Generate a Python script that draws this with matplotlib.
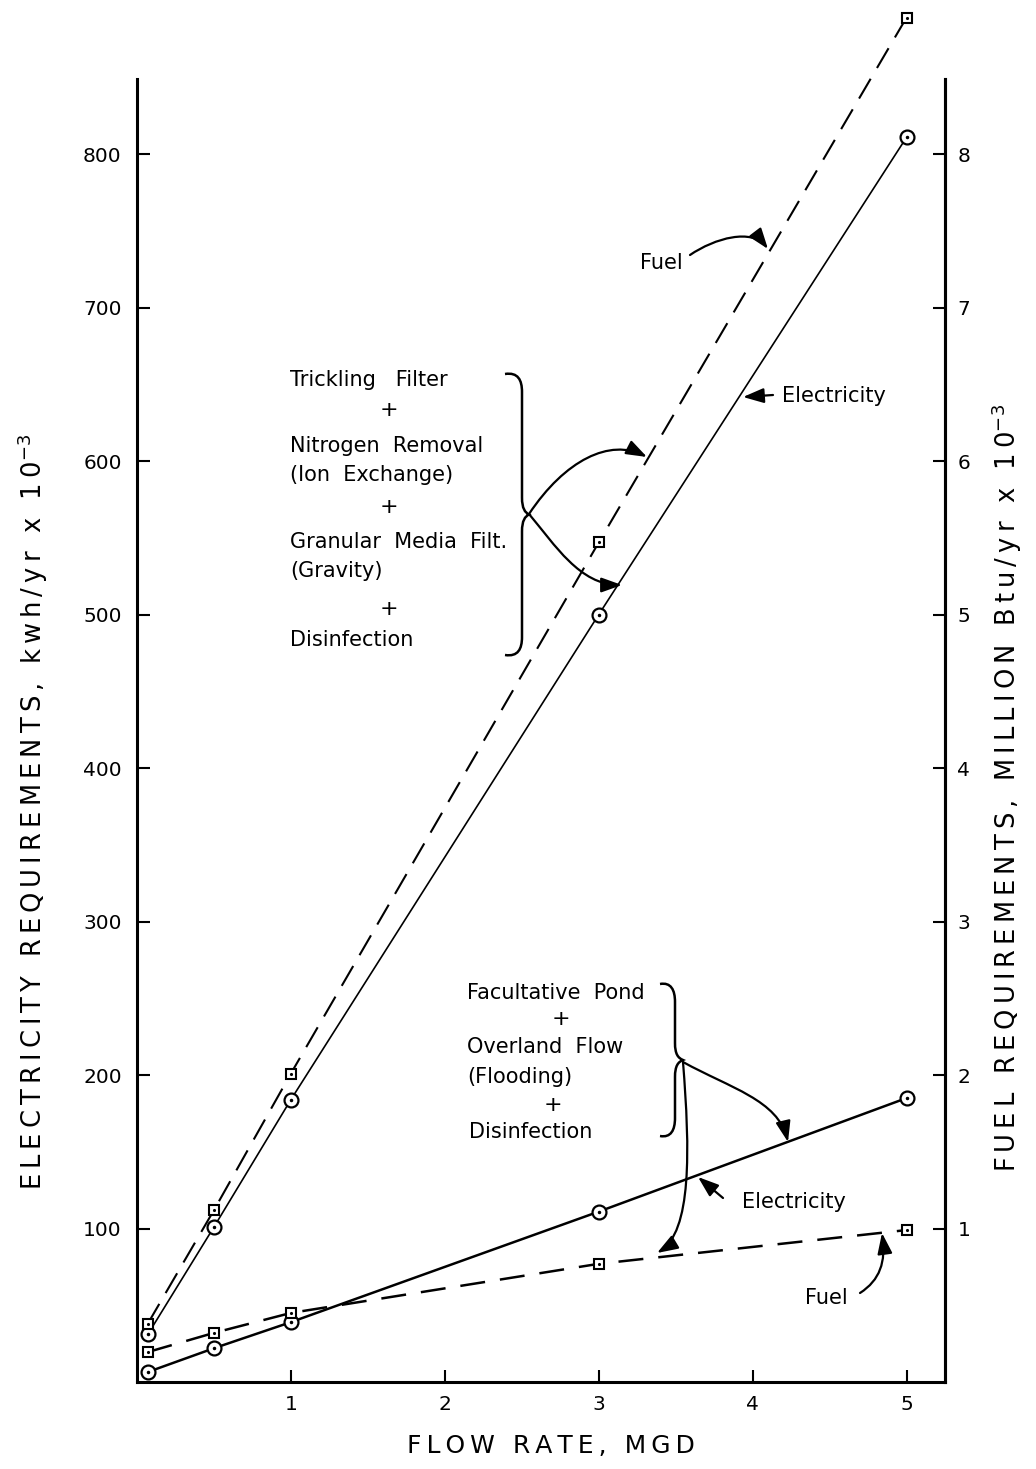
import matplotlib
matplotlib.use('Agg')
import matplotlib.pyplot as plt
import matplotlib.transforms as mtransforms
from matplotlib.path import Path
from matplotlib.patches import FancyArrowPatch, PathPatch

# ---------------- data ----------------
flow = [0.07, 0.5, 1, 3, 5]                      # MGD
tf_elec = [31, 101, 184, 500, 811]               # kwh/yr x 10^-3 (Trickling filter system)
tf_fuel = [0.38, 1.12, 2.01, 5.47, 8.89]         # million Btu/yr x 10^-3
fp_elec = [6.5, 22, 39, 111, 185]                # Facultative pond system
fp_fuel = [0.195, 0.32, 0.45, 0.77, 0.99]
x_ticks = [1, 2, 3, 4, 5]
elec_ticks = [100, 200, 300, 400, 500, 600, 700, 800]
fuel_ticks = [1, 2, 3, 4, 5, 6, 7, 8]

W, H = 1036, 1469
plt.rcParams['font.family'] = ['DejaVu Sans']
fig = plt.figure(figsize=(W / 100, H / 100), dpi=100)
fig.patch.set_facecolor('white')

# reference-pixel transform for annotations
PX = mtransforms.Affine2D().scale(1 / W, -1 / H).translate(0, 1) + fig.transFigure

ax = fig.add_axes([137 / W, 1 - 1382 / H, (945 - 137) / W, (1382 - 79) / H])
ax.set_xlim(0, 5.25)
ax.set_ylim(0, 849)
ax2 = ax.twinx()
ax2.set_ylim(0, 8.49)

for a in (ax, ax2):
    a.spines['top'].set_visible(False)
    for s in ('left', 'right', 'bottom'):
        a.spines[s].set_linewidth(2.2)
ax2.spines['left'].set_visible(False)
ax2.spines['bottom'].set_visible(False)

ax.set_xticks(x_ticks)
ax.set_yticks(elec_ticks)
ax2.set_yticks(fuel_ticks)
ax.tick_params(axis='x', direction='in', length=9, width=1.5, labelsize=14.5, pad=9)
ax.tick_params(axis='y', direction='in', length=9, width=1.5, labelsize=14.5, pad=11)
ax2.tick_params(axis='y', direction='in', length=9, width=1.5, labelsize=14.5, pad=9)

# ---------------- lines ----------------
ax.plot(flow, tf_elec, '-', color='black', lw=1.2, zorder=3)
ax.plot(flow, fp_elec, '-', color='black', lw=1.8, zorder=3)
ax2.plot(flow, tf_fuel, '--', color='black', lw=1.5, dashes=(11, 6), zorder=3, clip_on=False)
ax2.plot(flow, fp_fuel, '--', color='black', lw=1.8, dashes=(10, 6), zorder=3)

# markers
for ys in (tf_elec, fp_elec):
    ax.plot(flow, ys, 'o', ms=10, mfc='white', mec='black', mew=1.6, zorder=4, clip_on=False)
    ax.plot(flow, ys, '.', ms=3, color='black', zorder=5, clip_on=False)
for ys in (tf_fuel, fp_fuel):
    ax2.plot(flow, ys, 's', ms=7, mfc='white', mec='black', mew=1.5, zorder=4, clip_on=False)
    ax2.plot(flow, ys, '.', ms=2.5, color='black', zorder=5, clip_on=False)


def spaced(s, sp='\u2009'):
    return sp.join(s)


# ---------------- axis labels ----------------
fig.text(33, 812, spaced('ELECTRICITY REQUIREMENTS, kwh/yr x 10') + '$^{-3}$', transform=PX,
         rotation=90, ha='center', va='center', fontsize=18.5)
fig.text(1007, 788, spaced('FUEL REQUIREMENTS, MILLION Btu/yr x 10') + '$^{-3}$', transform=PX,
         rotation=90, ha='center', va='center', fontsize=18.5)
fig.text(551, 1446, spaced('FLOW RATE, MGD'), transform=PX, ha='center', va='center',
         fontsize=18)

# ---------------- annotations ----------------
tfs = 15
upper_lines = [('Trickling   Filter', 290, 380), ('+', 389, 410), ('Nitrogen  Removal', 290, 446),
               ('(Ion  Exchange)', 290, 475), ('+', 389, 507),
               ('Granular  Media  Filt.', 290, 542), ('(Gravity)', 290, 571),
               ('+', 389, 609), ('Disinfection', 290, 640)]
for t, x, y in upper_lines:
    fig.text(x, y, t, transform=PX, ha='left' if t != '+' else 'center', va='center',
             fontsize=tfs if t != '+' else 16)

lower_lines = [('Facultative  Pond', 467, 993), ('+', 561, 1019), ('Overland  Flow', 467, 1047),
               ('(Flooding)', 467, 1077), ('+', 553, 1105), ('Disinfection', 469, 1132)]
for t, x, y in lower_lines:
    fig.text(x, y, t, transform=PX, ha='left' if t != '+' else 'center', va='center',
             fontsize=tfs if t != '+' else 16)

fig.text(640, 263, 'Fuel', transform=PX, ha='left', va='center', fontsize=tfs)
fig.text(782, 396, 'Electricity', transform=PX, ha='left', va='center', fontsize=tfs)
fig.text(742, 1202, 'Electricity', transform=PX, ha='left', va='center', fontsize=tfs)
fig.text(805, 1298, 'Fuel', transform=PX, ha='left', va='center', fontsize=tfs)

C = Path.CURVE4
L = Path.LINETO
M = Path.MOVETO


def brace(top, bot, xv, xh, xc):
    yc = (top + bot) / 2
    verts = [(xh, top), (xv - 4, top - 2), (xv, top + 6), (xv, top + 18),
             (xv, yc - 17), (xv, yc - 6), (xv + 3, yc - 2), (xc, yc),
             (xv + 3, yc + 2), (xv, yc + 6), (xv, yc + 17),
             (xv, bot - 18), (xv, bot - 6), (xv - 4, bot + 2), (xh, bot)]
    codes = [M, C, C, C, L, C, C, C, C, C, C, L, C, C, C]
    fig.add_artist(PathPatch(Path(verts, codes), transform=PX, fill=False, lw=1.8,
                             color='black'))


brace(374, 655, 522, 505, 529)
brace(984, 1136, 675, 660, 683)


def arrow(pts, curved=True):
    if curved:
        path = Path(pts, [M, C, C, C])
    else:
        path = Path(pts, [M, L])
    fig.add_artist(FancyArrowPatch(path=path, transform=PX,
                                   arrowstyle='-|>,head_length=0.7,head_width=0.25',
                                   mutation_scale=18, lw=1.6, color='black'))


arrow([(529, 514), (565, 460), (610, 438), (647, 457)])
arrow([(529, 514), (555, 545), (580, 585), (622, 585)])
arrow([(683, 1062), (730, 1088), (778, 1100), (788, 1142)])
arrow([(683, 1062), (690, 1150), (692, 1232), (657, 1253)])
arrow([(690, 255), (715, 238), (752, 228), (768, 249)])
arrow([(860, 1293), (880, 1280), (886, 1262), (882, 1233)])
arrow([(773, 395), (743, 397)], curved=False)
arrow([(723, 1198), (698, 1177)], curved=False)

fig.savefig('out.png', dpi=100, facecolor='white')
